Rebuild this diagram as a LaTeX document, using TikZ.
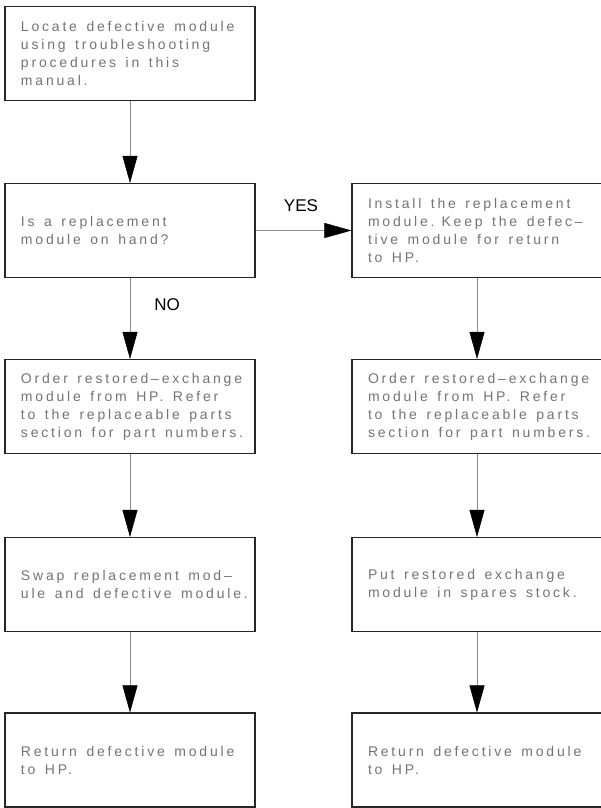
\documentclass[tikz,border=0pt]{standalone}
\usepackage{fontspec}
\setmainfont{Liberation Sans}
\newfontfamily\cadfont[LetterSpace=20]{Liberation Sans}
\usetikzlibrary{arrows.meta}

\begin{document}
\begin{tikzpicture}[x=1pt,y=-1pt,
    stepbox/.style={draw=black!85,line width=1.1pt,text width=236pt,inner xsep=7pt,inner ysep=0pt,
        minimum height=94pt,align=left,text=black!55,font=\cadfont\fontsize{14}{18}\selectfont,
        execute at begin node={\leftskip=9pt\spaceskip=9.5pt plus 1pt minus 1pt\relax}},
    flow/.style={draw=black!45,line width=0.5pt,-{Triangle[width=15pt,length=27pt,black]}},
    answer/.style={font=\fontsize{17}{20}\selectfont}]
    \useasboundingbox (0,0) rectangle (601,808);

    \node[stepbox] (locate) at (130,53.5) {Locate defective module\\using troubleshooting\\procedures in this\\manual.};
    \node[stepbox] (onhand) at (130,230.5) {Is a replacement\\module on hand?};
    \node[stepbox] (install) at (477,230.5) {Install the replacement\\module. Keep the defec–\\tive module for return\\to HP.};

    \node[stepbox] (orderl) at (130,406.5) {Order restored–exchange\\module from HP. Refer\\to the replaceable parts\\section for part numbers.};
    \node[stepbox] (orderr) at (477,406.5) {Order restored–exchange\\module from HP. Refer\\to the replaceable parts\\section for part numbers.};

    \node[stepbox] (swap) at (130,584.5) {Swap replacement mod–\\ule and defective module.};
    \node[stepbox] (spares) at (477,584.5) {Put restored exchange\\module in spares stock.};

    \node[stepbox] (returnl) at (130,760) {Return defective module\\to HP.};
    \node[stepbox] (returnr) at (477,760) {Return defective module\\to HP.};

    \node[answer] (yes) at (301,206) {YES};
    \node[answer] (no) at (167,305) {NO};

    \draw[flow] (locate) -- (onhand);
    \draw[flow] (onhand) -- (install);
    \draw[flow] (onhand) -- (orderl);
    \draw[flow] (orderl) -- (swap);
    \draw[flow] (swap) -- (returnl);
    \draw[flow] (install) -- (orderr);
    \draw[flow] (orderr) -- (spares);
    \draw[flow] (spares) -- (returnr);
\end{tikzpicture}
\end{document}
